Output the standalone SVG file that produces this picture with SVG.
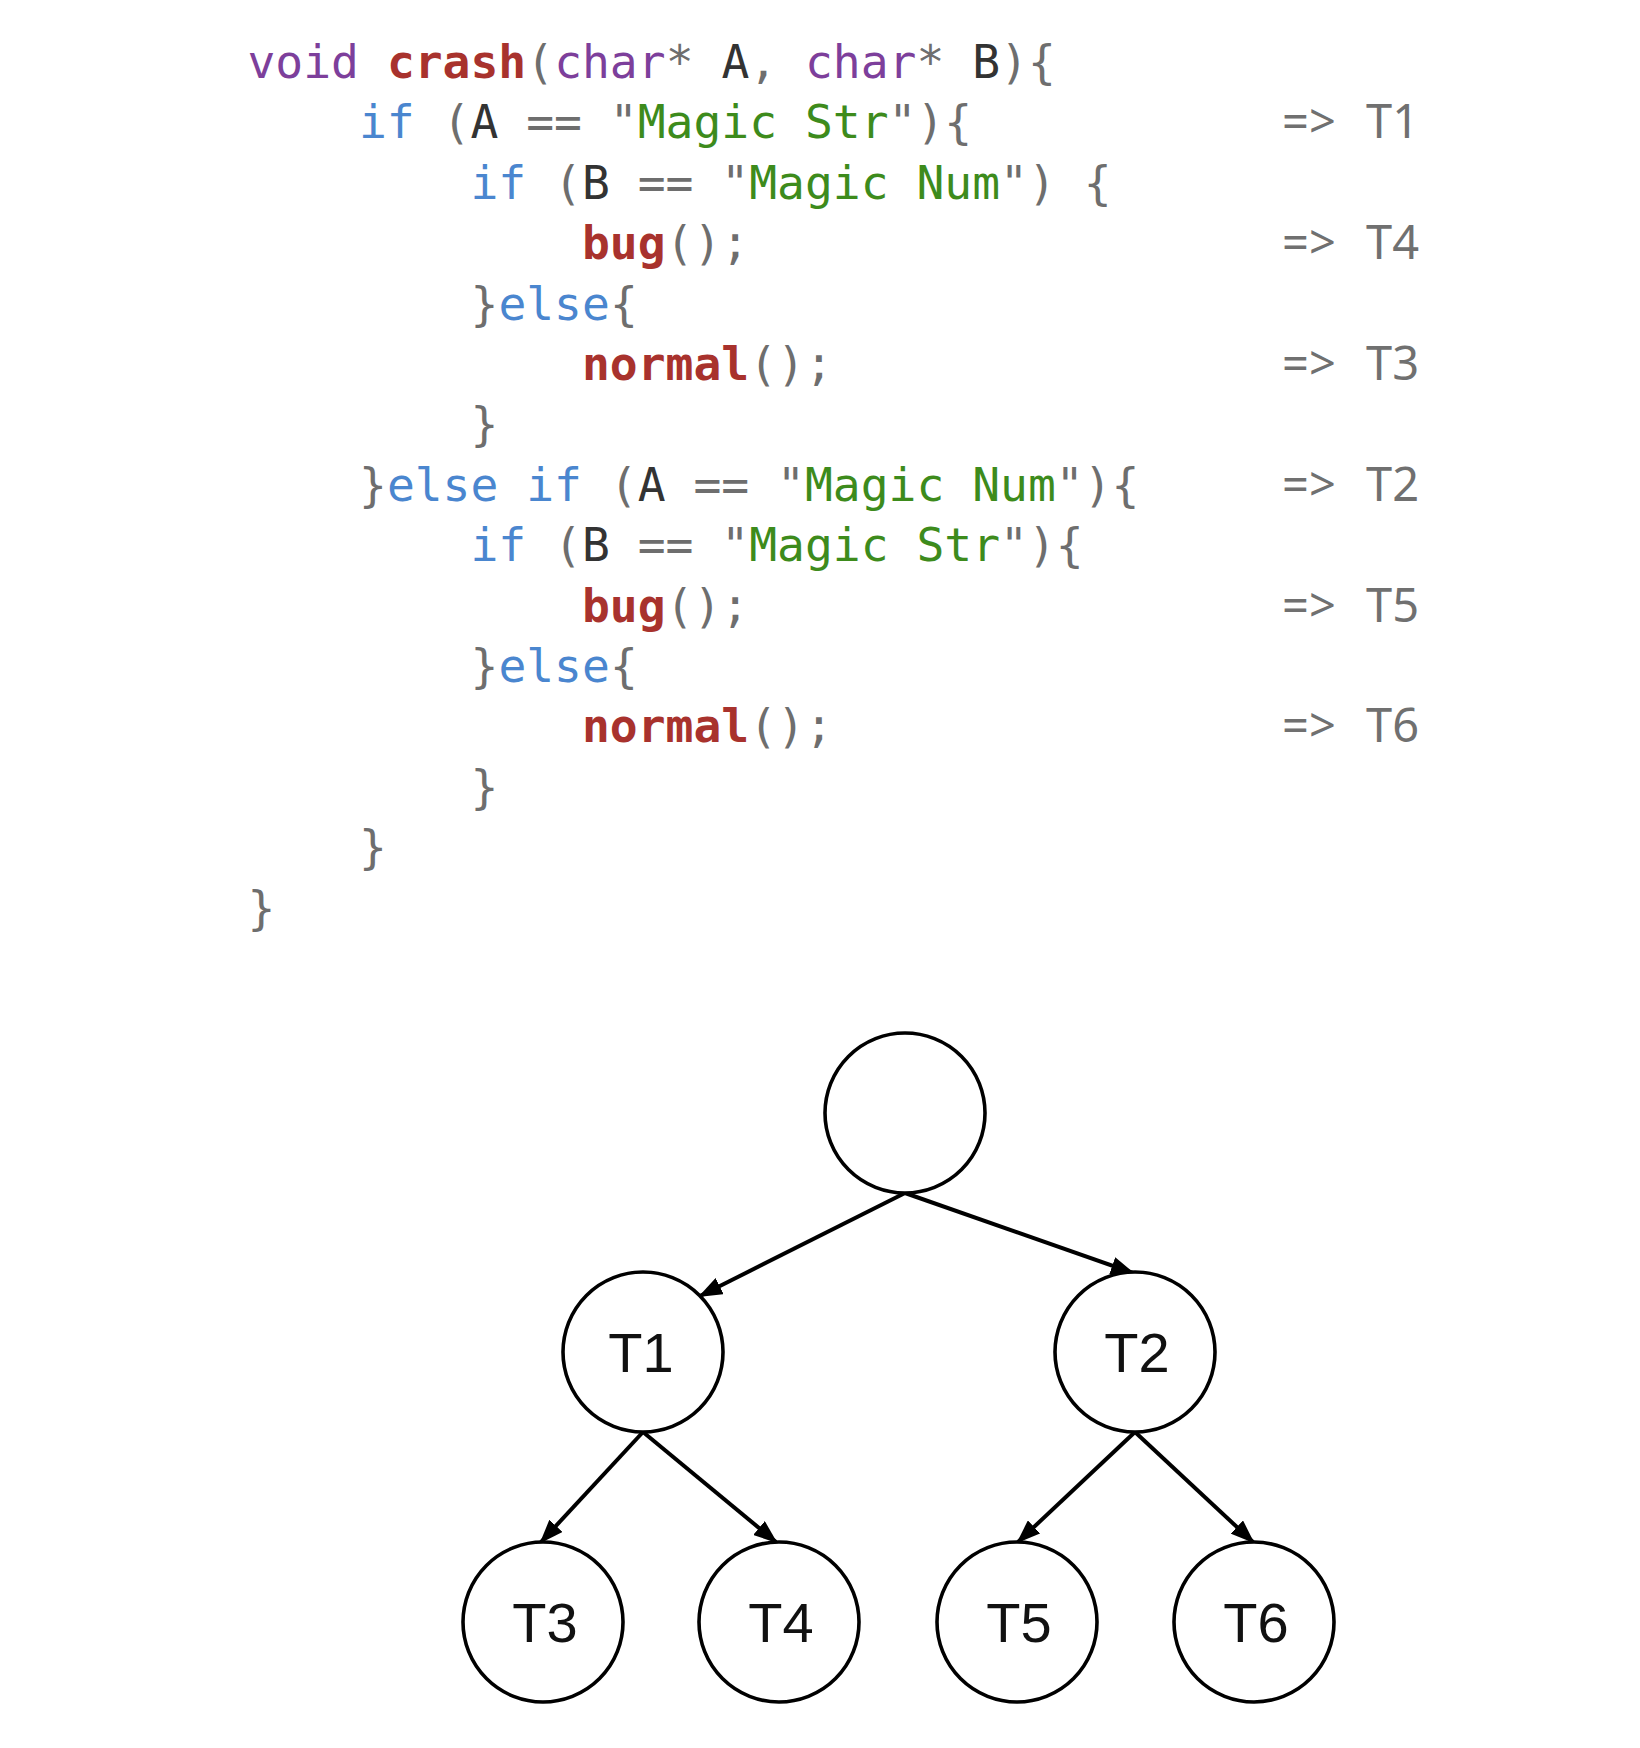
<svg xmlns="http://www.w3.org/2000/svg" width="1640" height="1748" viewBox="0 0 1640 1748">
<style>
.code{font-family:"DejaVu Sans Mono","Liberation Mono",monospace;font-size:46.3px;fill:#6e6e6e}
.kw{fill:#7d3f9b}
.fn{fill:#a8322d;font-weight:bold}
.ctl{fill:#4a86cf}
.str{fill:#3d8b1c}
.id{fill:#333333}
.note{font-family:"Noto Sans","Open Sans",sans-serif;font-size:47px;fill:#707070}
.node{fill:#ffffff;stroke:#000000;stroke-width:3.6}
.lbl{font-family:"Liberation Sans",Arial,sans-serif;font-size:56px;fill:#111111;text-anchor:middle}
.edge{stroke:#000000;stroke-width:4;fill:none;marker-end:url(#arr)}
</style>
<defs>
<marker id="arr" markerUnits="userSpaceOnUse" markerWidth="24" markerHeight="18" refX="22" refY="9" orient="auto">
<path d="M0,0 L24,9 L0,18 z" fill="#000000"/>
</marker>
</defs>
<rect width="1640" height="1748" fill="#ffffff"/>
<g id="code" class="code" xml:space="preserve">
<text x="247.5" y="78"><tspan class="kw">void</tspan> <tspan class="fn">crash</tspan>(<tspan class="kw">char</tspan>* <tspan class="id">A</tspan>, <tspan class="kw">char</tspan>* <tspan class="id">B</tspan>){</text>
<text x="359" y="138.4"><tspan class="ctl">if</tspan> (<tspan class="id">A</tspan> == "<tspan class="str">Magic Str</tspan>"){</text>
<text x="470.5" y="198.8"><tspan class="ctl">if</tspan> (<tspan class="id">B</tspan> == "<tspan class="str">Magic Num</tspan>") {</text>
<text x="582" y="259.2"><tspan class="fn">bug</tspan>();</text>
<text x="470.5" y="319.6">}<tspan class="ctl">else</tspan>{</text>
<text x="582" y="380"><tspan class="fn">normal</tspan>();</text>
<text x="470.5" y="440.4">}</text>
<text x="359" y="500.8">}<tspan class="ctl">else if</tspan> (<tspan class="id">A</tspan> == "<tspan class="str">Magic Num</tspan>"){</text>
<text x="470.5" y="561.2"><tspan class="ctl">if</tspan> (<tspan class="id">B</tspan> == "<tspan class="str">Magic Str</tspan>"){</text>
<text x="582" y="621.6"><tspan class="fn">bug</tspan>();</text>
<text x="470.5" y="682">}<tspan class="ctl">else</tspan>{</text>
<text x="582" y="742.4"><tspan class="fn">normal</tspan>();</text>
<text x="470.5" y="802.8">}</text>
<text x="359" y="863.2">}</text>
<text x="247.5" y="923.6">}</text>
</g>
<g id="notes" class="note">
<text x="1282" y="138.4">=&gt;</text><text x="1366" y="138.4">T1</text>
<text x="1282" y="259.2">=&gt;</text><text x="1366" y="259.2">T4</text>
<text x="1282" y="380">=&gt;</text><text x="1366" y="380">T3</text>
<text x="1282" y="500.8">=&gt;</text><text x="1366" y="500.8">T2</text>
<text x="1282" y="621.6">=&gt;</text><text x="1366" y="621.6">T5</text>
<text x="1282" y="742.4">=&gt;</text><text x="1366" y="742.4">T6</text>
</g>
<g id="connectors">
<line class="edge" x1="905" y1="1193" x2="700" y2="1296"/>
<line class="edge" x1="905" y1="1193" x2="1133" y2="1273"/>
<line class="edge" x1="643" y1="1432" x2="541" y2="1542"/>
<line class="edge" x1="643" y1="1432" x2="776" y2="1542"/>
<line class="edge" x1="1135" y1="1432" x2="1018" y2="1542"/>
<line class="edge" x1="1135" y1="1432" x2="1253" y2="1542"/>
</g>
<g id="root"><circle class="node" cx="905" cy="1113" r="80"/></g>
<g id="T1"><circle class="node" cx="643" cy="1352" r="80"/><text class="lbl" x="641" y="1372">T1</text></g>
<g id="T2"><circle class="node" cx="1135" cy="1352" r="80"/><text class="lbl" x="1137" y="1372">T2</text></g>
<g id="T3"><circle class="node" cx="543" cy="1622" r="80"/><text class="lbl" x="545" y="1642">T3</text></g>
<g id="T4"><circle class="node" cx="779" cy="1622" r="80"/><text class="lbl" x="781" y="1642">T4</text></g>
<g id="T5"><circle class="node" cx="1017" cy="1622" r="80"/><text class="lbl" x="1019" y="1642">T5</text></g>
<g id="T6"><circle class="node" cx="1254" cy="1622" r="80"/><text class="lbl" x="1256" y="1642">T6</text></g>
</svg>
